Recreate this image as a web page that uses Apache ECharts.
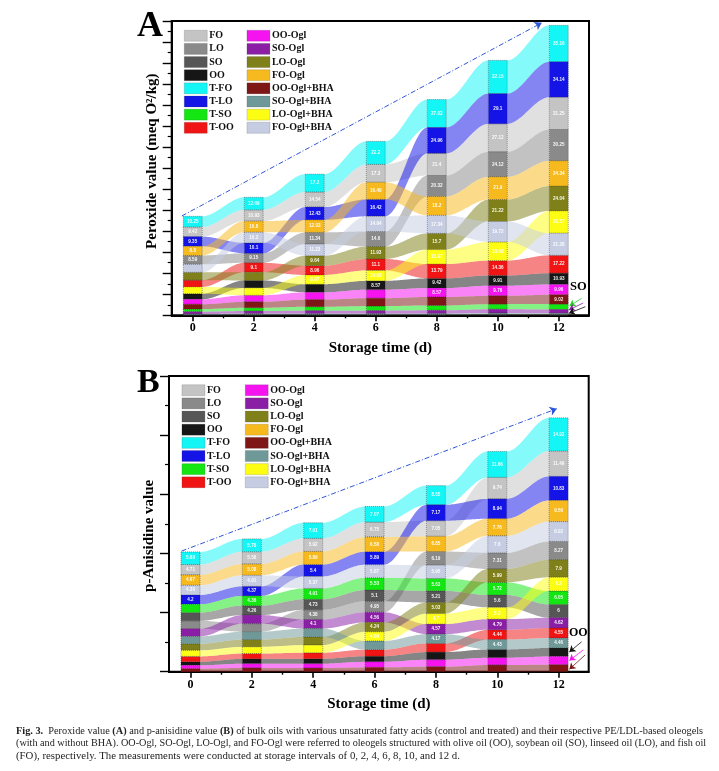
<!DOCTYPE html>
<html>
<head>
<meta charset="utf-8">
<style>html,body{margin:0;padding:0;background:#fff}#c{width:719px;height:771px}</style>
<script src="https://cdn.jsdelivr.net/npm/echarts@6/dist/echarts.min.js"></script>
</head>
<body>
<div id="c"></div>
<script>
const times = [0, 2, 4, 6, 8, 10, 12];
const names = ['FO','LO','SO','OO','T-FO','T-LO','T-SO','T-OO','OO-Ogl','SO-Ogl','LO-Ogl','FO-Ogl','OO-Ogl+BHA','SO-Ogl+BHA','LO-Ogl+BHA','FO-Ogl+BHA'];
const colors = ['#c4c4c4','#8a8a8a','#565656','#161616','#14f5f5','#1414e6','#14e614','#f01414','#f514f0','#8a1fa6','#80801a','#f7ba1e','#7f1616','#6f9999','#fdfd14','#c6cde2'];

// Peroxide value (panel A), one list per oil, in the order of `names`
const pvFO      = [9.42, 10.93, 14.54, 17.3, 21.4, 27.12, 31.25];
const pvLO      = [8.59, 9.15, 11.34, 14.6, 20.32, 24.12, 30.25];
const pvSO      = [0.6, 0.7, 0.75, 0.7, 0.7, 1.0, 0.9];
const pvOO      = [5.4, 7.2, 7.9, 8.57, 9.42, 9.91, 10.93];
const pvTFO     = [10.25, 12.09, 17.2, 22.2, 27.03, 32.15, 35.16];
const pvTLO     = [9.35, 10.1, 12.43, 16.42, 24.96, 29.1, 34.14];
const pvTSO     = [2.5, 3.2, 3.8, 4.4, 4.7, 5.0, 5.2];
const pvTOO     = [6.55, 9.1, 8.96, 11.1, 13.79, 14.36, 17.22];
const pvOOOgl   = [4.8, 6.35, 7.0, 8.2, 8.57, 9.76, 9.96];
const pvSOOgl   = [2.2, 2.6, 2.9, 3.0, 3.2, 3.6, 3.7];
const pvLOOgl   = [7.55, 7.95, 9.64, 11.93, 15.7, 21.22, 24.04];
const pvFOOgl   = [8.8, 10.8, 12.03, 16.49, 18.2, 21.9, 24.34];
const pvOOBHA   = [4.7, 5.7, 6.9, 7.6, 8.2, 8.0, 9.02];
const pvSOBHA   = [0.7, 0.8, 0.8, 0.8, 0.9, 1.2, 1.0];
const pvLOBHA   = [6.5, 7.1, 8.87, 10.02, 13.97, 18.03, 21.57];
const pvFOBHA   = [7.7, 10.2, 11.23, 14.64, 17.34, 19.72, 21.28];

// p-Anisidine value (panel B)
const avFO      = [4.71, 5.58, 5.92, 6.75, 7.05, 9.74, 11.49];
const avLO      = [3.6, 3.6, 4.38, 4.95, 6.19, 7.31, 8.27];
const avSO      = [3.7, 4.26, 4.73, 5.1, 5.21, 5.6, 6.0];
const avOO      = [1.65, 2.2, 2.25, 2.55, 3.45, 3.75, 3.85];
const avTFO     = [5.68, 5.78, 7.01, 7.07, 8.65, 11.66, 14.93];
const avTLO     = [4.2, 4.37, 5.4, 5.89, 7.17, 8.94, 10.83];
const avTSO     = [3.75, 4.36, 4.91, 5.53, 5.63, 5.72, 6.05];
const avTOO     = [2.4, 2.4, 2.7, 2.95, 3.9, 4.44, 4.55];
const avOOOgl   = [1.5, 1.9, 1.95, 2.5, 3.15, 3.3, 3.7];
const avSOOgl   = [3.45, 3.9, 4.1, 4.56, 4.57, 4.79, 4.62];
const avLOOgl   = [3.0, 3.3, 3.7, 4.24, 5.03, 5.99, 7.9];
const avFOOgl   = [4.67, 5.08, 5.89, 6.58, 6.85, 7.76, 9.56];
const avOOBHA   = [1.35, 1.7, 1.65, 1.95, 2.25, 3.0, 3.15];
const avSOBHA   = [3.3, 3.55, 3.75, 3.95, 4.17, 4.43, 4.46];
const avLOBHA   = [2.7, 3.0, 3.45, 4.09, 4.7, 5.3, 6.2];
const avFOBHA   = [4.36, 4.91, 5.37, 5.87, 5.95, 7.6, 8.92];

const panelA = [pvFO,pvLO,pvSO,pvOO,pvTFO,pvTLO,pvTSO,pvTOO,pvOOOgl,pvSOOgl,pvLOOgl,pvFOOgl,pvOOBHA,pvSOBHA,pvLOBHA,pvFOBHA];
const panelB = [avFO,avLO,avSO,avOO,avTFO,avTLO,avTSO,avTOO,avOOOgl,avSOOgl,avLOOgl,avFOOgl,avOOBHA,avSOBHA,avLOBHA,avFOBHA];

const barHalf = 0.31;
const SERIF = '"Liberation Serif"';

// each column is stacked with the largest value on top
function stackBases(panel) {
  const bases = panel.map(() => []);
  times.forEach((t, i) => {
    const order = panel.map((v, k) => k).sort((a, b) => panel[a][i] - panel[b][i]);
    let sum = 0;
    order.forEach(k => { bases[k][i] = sum; sum += panel[k][i]; });
  });
  return bases;
}

function ribbonSeries(panel, xIdx, yIdx, labelFrom) {
  const bases = stackBases(panel);
  return panel.map((vals, k) => ({
    type: 'custom', name: names[k], coordinateSystem: 'cartesian2d',
    xAxisIndex: xIdx, yAxisIndex: yIdx, silent: true, clip: false,
    itemStyle: { color: colors[k] },
    encode: { x: 0, y: 1 },
    data: times.map((t, i) => [t, vals[i]]),
    renderItem(params, api) {
      const i = params.dataIndex, x = times[i], b = bases[k][i], v = vals[i];
      const p0 = api.coord([x - barHalf, b + v]), p1 = api.coord([x + barHalf, b]);
      const kids = [{
        type: 'rect', z2: 10,
        shape: { x: p0[0], y: p0[1], width: p1[0] - p0[0], height: p1[1] - p0[1] },
        style: { fill: colors[k], stroke: 'rgba(40,40,40,.75)', lineWidth: 0.6, lineDash: [1, 1] }
      }];
      if (v >= labelFrom) {
        const c = api.coord([x, b + v / 2]);
        kids.push({ type: 'text', z2: 20, style: { text: String(v), x: c[0], y: c[1], align: 'center', verticalAlign: 'middle',
          fill: 'rgba(255,255,255,.92)', font: 'bold 4.6px "Liberation Sans"' } });
      }
      if (i < times.length - 1) {
        const a = api.coord([x + barHalf, b + v]), aLow = api.coord([x + barHalf, b]);
        const z = api.coord([times[i + 1] - barHalf, bases[k][i + 1] + vals[i + 1]]),
              zLow = api.coord([times[i + 1] - barHalf, bases[k][i + 1]]);
        const top = [], low = [];
        for (let s = 0; s <= 30; s++) {
          const u = s / 30, w = u * u * (3 - 2 * u), px = a[0] + (z[0] - a[0]) * u;
          top.push([px, a[1] + (z[1] - a[1]) * w]);
          low.unshift([px, aLow[1] + (zLow[1] - aLow[1]) * w]);
        }
        kids.push({ type: 'polygon', z2: 2, shape: { points: top.concat(low) }, style: { fill: colors[k], opacity: 0.52 } });
      }
      return { type: 'group', children: kids };
    }
  }));
}

function arrows(xIdx, yIdx, lines) {
  return {
    type: 'line', xAxisIndex: xIdx, yAxisIndex: yIdx, data: [], silent: true,
    markLine: { silent: true, animation: false, symbol: ['none', 'arrow'], label: { show: false }, data: lines }
  };
}
function arrow(x0, y0, x1, y1, color, width, dash, size) {
  return [{ coord: [x0, y0], symbolSize: size, lineStyle: { color, width, type: dash || 'solid', opacity: 1 }, itemStyle: { color } }, { coord: [x1, y1], symbolSize: size, itemStyle: { color } }];
}

const evens = [0, 2, 4, 6, 8, 10, 12], odds = [1, 3, 5, 7, 9, 11, 13];
function xAxes(gridIndex, min, max) {
  const line = { show: true, lineStyle: { color: '#000', width: 2 } };
  return [{
    type: 'value', gridIndex, min, max, position: 'bottom', splitLine: { show: false },
    axisLine: Object.assign({ onZero: false }, line),
    axisTick: { show: true, length: 6, customValues: evens, lineStyle: { color: '#000', width: 1.6 } },
    axisLabel: { show: true, customValues: evens, color: '#000', fontFamily: SERIF, fontWeight: 'bold', fontSize: 12, margin: 7 },
    name: 'Storage time (d)', nameLocation: 'middle', nameGap: 25,
    nameTextStyle: { color: '#000', fontFamily: SERIF, fontWeight: 'bold', fontSize: 15 }
  }, {
    type: 'value', gridIndex, min, max, position: 'bottom', splitLine: { show: false },
    axisLine: { show: false, onZero: false },
    axisTick: { show: true, length: 3, customValues: odds, lineStyle: { color: '#000', width: 1.4 } },
    axisLabel: { show: false }
  }];
}
function yAxis(gridIndex, max, interval, name, padding) {
  return {
    type: 'value', gridIndex, min: 0, max, interval, position: 'left', splitLine: { show: false },
    axisLine: { show: true, onZero: false, lineStyle: { color: '#000', width: 2 } },
    axisTick: { show: true, length: 9, lineStyle: { color: '#000', width: 1.4 } },
    minorTick: { show: true, splitNumber: 2, length: 4, lineStyle: { color: '#000', width: 1.2 } },
    minorSplitLine: { show: false },
    axisLabel: { show: false },
    name, nameLocation: 'middle', nameGap: 12, nameRotate: 90,
    nameTextStyle: { color: '#000', fontFamily: SERIF, fontWeight: 'bold', fontSize: 15, padding }
  };
}
function legends(top, leftA, leftB) {
  const base = {
    top, orient: 'vertical', icon: 'rect', itemWidth: 23, itemHeight: 11, itemGap: 1.65, padding: 0, selectedMode: false,
    itemStyle: { borderColor: 'rgba(60,60,60,.7)', borderWidth: 0.5, borderType: 'dotted' },
    textStyle: { color: '#111', fontFamily: SERIF, fontWeight: 'bold', fontSize: 10, padding: [0, 0, 0, -3] }
  };
  return [Object.assign({}, base, { left: leftA, data: names.slice(0, 8) }),
          Object.assign({}, base, { left: leftB, data: names.slice(8) })];
}
function txt(x, y, text, size) {
  return { type: 'text', x, y, silent: true, style: { text, fill: '#000', font: `bold ${size}px ${SERIF}`, align: 'left', verticalAlign: 'middle' } };
}
function capLine(y, size, text) {
  return { type: 'text', x: 16, y, silent: true, style: { text, fill: '#222', fontFamily: SERIF, fontSize: size, align: 'left', verticalAlign: 'middle',
    rich: { b: { fontFamily: SERIF, fontSize: size, fontWeight: 'bold', fill: '#222' } } } };
}

const chart = echarts.init(document.getElementById('c'), null, { renderer: 'canvas' });
chart.setOption({
  animation: false,
  backgroundColor: '#fff',
  grid: [
    { left: 171.7, top: 21, width: 417.3, height: 294.3, show: true, borderColor: '#000', borderWidth: 2, backgroundColor: 'transparent' },
    { left: 169, top: 376, width: 419.7, height: 295.7, show: true, borderColor: '#000', borderWidth: 2, backgroundColor: 'transparent' }
  ],
  legend: legends(30, 184, 246.7).concat(legends(384.5, 181.7, 245)),
  xAxis: xAxes(0, -0.69, 12.99).concat(xAxes(1, -0.7, 12.98)),
  yAxis: [
    yAxis(0, 284.2, 20.3, 'Peroxide value (meq O\u00b2/kg)', [0, 0, 0, 14]),
    yAxis(1, 133.35, 26.67, 'p-Anisidine value', [0, 24, 0, 0])
  ],
  series: ribbonSeries(panelA, 0, 0, 8.4).concat(ribbonSeries(panelB, 2, 1, 4.05)).concat([
    arrows(0, 0, [
      arrow(-0.36, 95.9, 11.44, 282.4, '#2f55d8', 1, [5, 2, 1, 2], 7),
      arrow(12.75, 16.4, 12.35, 9.0, '#22d422', 0.8, 'solid', 6),
      arrow(12.8, 11.9, 12.33, 5.1, '#8a1fa6', 0.8, 'solid', 6),
      arrow(12.87, 8.3, 12.33, 1.9, '#111', 0.8, 'solid', 6)
    ]),
    arrows(2, 1, [
      arrow(-0.29, 54.4, 11.94, 118.6, '#2f55d8', 1, [5, 2, 1, 2], 7),
      arrow(12.75, 13.5, 12.35, 8.9, '#111', 0.8, 'solid', 6),
      arrow(12.8, 9.8, 12.35, 5.0, '#f514f0', 0.8, 'solid', 6),
      arrow(12.86, 7.5, 12.35, 1.1, '#7f1616', 0.8, 'solid', 6)
    ])
  ]),
  graphic: [
    txt(137, 27, 'A', 36), txt(137, 383, 'B', 34),
    txt(570, 287, 'SO', 12.5), txt(569, 633, 'OO', 12),
    capLine(731, 10.3, '{b|Fig. 3.}  Peroxide value {b|(A)} and p-anisidine value {b|(B)} of bulk oils with various unsaturated fatty acids (control and treated) and their respective PE/LDL-based oleogels'),
    capLine(743.5, 10.2, '(with and without BHA). OO-Ogl, SO-Ogl, LO-Ogl, and FO-Ogl were referred to oleogels structured with olive oil (OO), soybean oil (SO), linseed oil (LO), and fish oil'),
    capLine(756.5, 10.8, '(FO), respectively. The measurements were conducted at storage intervals of 0, 2, 4, 6, 8, 10, and 12 d.')
  ]
});
</script>
</body>
</html>
